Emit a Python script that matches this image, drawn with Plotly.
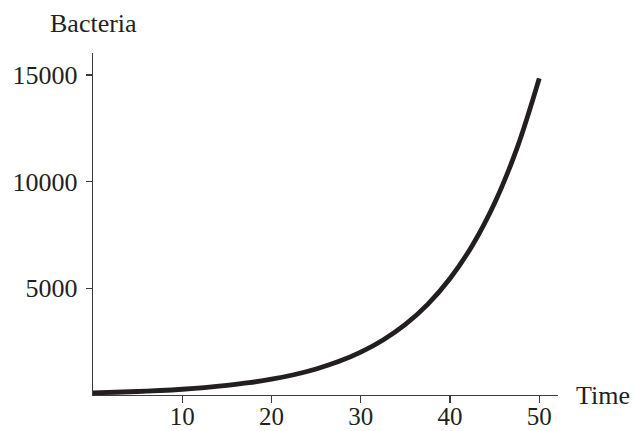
import plotly.graph_objects as go

# Data
time = [0, 2.5, 5, 7.5, 10, 12.5, 15, 17.5, 20, 22.5, 25, 27.5, 30, 32.5, 35, 37.5, 40, 42.5, 45, 47.5, 50]
bacteria = [100, 130, 165, 210, 270, 350, 450, 575, 740, 950, 1220, 1565, 2010, 2580, 3310, 4250, 5460, 7010, 9000, 11560, 14840]

x_ticks = [10, 20, 30, 40, 50]
y_ticks = [5000, 10000, 15000]
x_tick_labels = ["10", "20", "30", "40", "50"]
y_tick_labels = ["5000", "10000", "15000"]

ink = "#231f20"
axis_col = "#3a3a3a"
font_family = "Liberation Serif, Times New Roman, serif"
fs = 26

fig = go.Figure()
fig.add_trace(go.Scatter(
    x=time, y=bacteria, mode="lines",
    line=dict(color=ink, width=4.8, shape="spline"),
    hoverinfo="skip", showlegend=False,
))

fig.update_layout(
    width=634, height=431,
    margin=dict(l=93, r=76, t=53, b=36),
    paper_bgcolor="white", plot_bgcolor="white",
    font=dict(family=font_family, color=ink, size=fs),
    xaxis=dict(
        range=[0, 52.1], showgrid=False, zeroline=False,
        showline=True, linecolor=axis_col, linewidth=1.3,
        ticks="outside", ticklen=7, tickwidth=1.3, tickcolor=axis_col,
        tickvals=x_ticks, ticktext=x_tick_labels,
        tickfont=dict(family=font_family, size=fs - 1, color=ink),
        ticklabelstandoff=-8,
        automargin=False,
    ),
    yaxis=dict(
        range=[0, 16030], showgrid=False, zeroline=False,
        showline=True, linecolor=axis_col, linewidth=1.3,
        ticks="outside", ticklen=6, tickwidth=1.3, tickcolor=axis_col,
        tickvals=y_ticks, ticktext=y_tick_labels,
        tickfont=dict(family=font_family, size=fs, color=ink),
        ticklabelstandoff=3,
        automargin=False,
    ),
    annotations=[
        dict(text="Bacteria", xref="paper", yref="paper", x=0, y=1,
             xanchor="center", yanchor="bottom", yshift=13, showarrow=False,
             font=dict(family=font_family, size=fs, color=ink)),
        dict(text="Time", xref="paper", yref="paper", x=1, y=0,
             xanchor="left", yanchor="middle", xshift=16, showarrow=False,
             font=dict(family=font_family, size=fs, color=ink)),
    ],
)

fig.write_html(
    "out.html",
    config={"displayModeBar": False, "staticPlot": True},
    post_script="document.body.style.margin='0px';document.body.style.overflow='hidden';",
)
